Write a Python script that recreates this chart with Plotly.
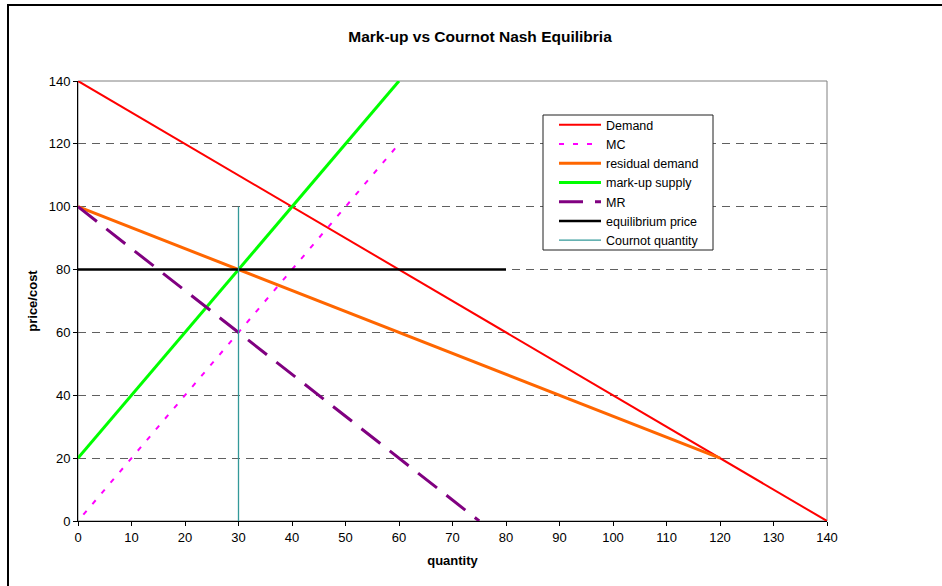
import plotly.graph_objects as go

# ---- data ----
demand_q = [0, 140]
demand_p = [140, 0]
mc_q = [1, 60]
mc_p = [2, 120]
resid_q = [0, 120]
resid_p = [100, 20]
markup_q = [0, 60]
markup_p = [20, 140]
mr_q = [0, 75]
mr_p = [100, 0]
eq_q = [0, 80]
eq_p = [80, 80]
cournot_q = [30, 30]
cournot_p = [0, 100]

x_ticks = list(range(0, 141, 10))
y_ticks = list(range(0, 141, 20))

FONT = "Liberation Sans, Arial, sans-serif"

fig = go.Figure()
fig.add_trace(go.Scatter(x=demand_q, y=demand_p, mode="lines", name="Demand",
                         line=dict(color="#FF0000", width=2)))
fig.add_trace(go.Scatter(x=mc_q, y=mc_p, mode="lines", name="MC",
                         line=dict(color="#FF00FF", width=2, dash="5px,9px")))
fig.add_trace(go.Scatter(x=resid_q, y=resid_p, mode="lines", name="residual demand",
                         line=dict(color="#FF6600", width=3)))
fig.add_trace(go.Scatter(x=markup_q, y=markup_p, mode="lines", name="mark-up supply",
                         line=dict(color="#00FF00", width=3)))
fig.add_trace(go.Scatter(x=mr_q, y=mr_p, mode="lines", name="MR",
                         line=dict(color="#800080", width=3, dash="24px,12px")))
fig.add_trace(go.Scatter(x=eq_q, y=eq_p, mode="lines", name="equilibrium price",
                         line=dict(color="#000000", width=2.5)))
fig.add_trace(go.Scatter(x=cournot_q, y=cournot_p, mode="lines", name="Cournot quantity",
                         line=dict(color="#339999", width=1.3)))

L, T, R, B = 78, 81, 827, 521
W, H = 942, 586
pw, ph = R - L, B - T

def px_x(p):
    return (p - L) / pw

def px_y(p):
    return (B - p) / ph

fig.update_layout(
    width=W, height=H,
    margin=dict(l=L, r=W - R, t=T, b=H - B),
    paper_bgcolor="white", plot_bgcolor="white",
    font=dict(family=FONT, size=13, color="black"),
    title=dict(text="<b>Mark-up vs Cournot Nash Equilibria</b>",
               x=480 / W, xref="container", xanchor="center",
               y=1 - 37 / H, yref="container", yanchor="middle",
               font=dict(family=FONT, size=15.5, color="black")),
    showlegend=True,
    legend=dict(x=px_x(554), y=px_y(110), xanchor="left", yanchor="top",
                bgcolor="rgba(0,0,0,0)", borderwidth=0,
                font=dict(family=FONT, size=12.5, color="black"),
                itemwidth=42, tracegroupgap=0),
    xaxis=dict(range=[0, 140], tickvals=x_ticks, ticktext=[str(v) for v in x_ticks],
               showgrid=False, zeroline=False, showline=True, linecolor="black",
               linewidth=1, ticks="outside", ticklen=4, tickcolor="black",
               tickfont=dict(family=FONT, size=13),
               title=dict(text="<b>quantity</b>", font=dict(family=FONT, size=13), standoff=12)),
    yaxis=dict(range=[0, 140], tickvals=y_ticks, ticktext=[str(v) for v in y_ticks],
               showgrid=True, gridcolor="#606060", gridwidth=1, griddash="8px,6px",
               zeroline=False, showline=True, linecolor="black",
               linewidth=1, ticks="outside", ticklen=4, tickcolor="black",
               tickfont=dict(family=FONT, size=13),
               title=dict(text="<b>price/cost</b>", font=dict(family=FONT, size=13), standoff=8)),
    shapes=[
        dict(type="rect", xref="paper", yref="paper", x0=0, y0=0, x1=1, y1=1,
             line=dict(color="#808080", width=1), layer="below"),
        # legend frame
        dict(type="rect", xref="paper", yref="paper",
             x0=px_x(543), y0=px_y(250), x1=px_x(713), y1=px_y(115),
             line=dict(color="#202020", width=1), fillcolor="white", layer="above"),
        dict(type="rect", xref="paper", yref="paper",
             x0=px_x(8), y0=px_y(5), x1=px_x(W + 20), y1=px_y(H + 20),
             line=dict(color="black", width=2)),
    ],
)

fig.write_html("out.html", config={"displayModeBar": False},
               post_script="document.body.style.margin='0px';document.body.style.overflow='hidden';")
